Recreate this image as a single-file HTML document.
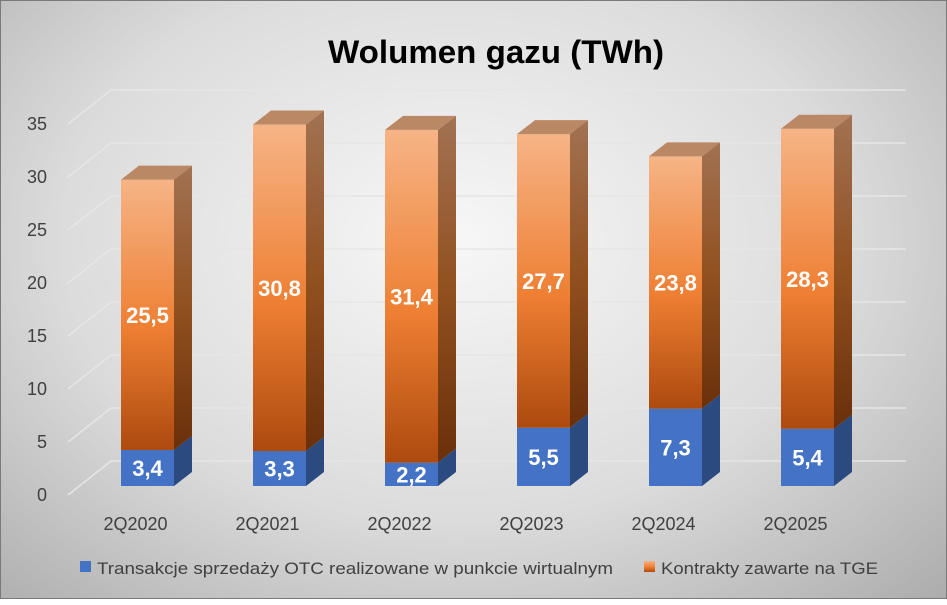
<!DOCTYPE html>
<html><head><meta charset="utf-8"><style>
body{margin:0;width:947px;height:599px;overflow:hidden;font-family:"Liberation Sans",sans-serif}
#wrap{position:absolute;left:0;top:0;width:945px;height:597px;border:1px solid #7a7a7a;background:radial-gradient(ellipse 75% 85% at 48% 40%,#f7f7f7 0%,#dcdcdc 55%,#ababab 100%)}
</style></head><body>
<div id="wrap">
<svg id="chart" width="947" height="599">
<defs>
<linearGradient id="oF" x1="0" y1="0" x2="0" y2="1"><stop offset="0" stop-color="#f6b486"/><stop offset="0.55" stop-color="#ee7f33"/><stop offset="1" stop-color="#ad4a0e"/></linearGradient>
<linearGradient id="oS" x1="0" y1="0" x2="0" y2="1"><stop offset="0" stop-color="#a27253"/><stop offset="0.5" stop-color="#91501f"/><stop offset="1" stop-color="#6a300a"/></linearGradient>
</defs>
<text x="495" y="62" text-anchor="middle" font-size="32" font-weight="bold" fill="#000" textLength="336" lengthAdjust="spacingAndGlyphs">Wolumen gazu (TWh)</text>
<g id="grid"></g><g id="bars"></g><g id="labels"></g>
<g>
<rect x="79" y="560" width="11" height="11" fill="#4472c4"/>
<text x="96" y="573" font-size="17" fill="#404040" textLength="516" lengthAdjust="spacingAndGlyphs">Transakcje sprzedaży OTC realizowane w punkcie wirtualnym</text>
<rect x="643" y="560" width="11" height="11" fill="url(#oF)"/>
<text x="660" y="573" font-size="17" fill="#404040" textLength="217" lengthAdjust="spacingAndGlyphs">Kontrakty zawarte na TGE</text>
</g>
</svg>
</div>
<script>
const categories=["2Q2020","2Q2021","2Q2022","2Q2023","2Q2024","2Q2025"];
const otcValues=[3.4,3.3,2.2,5.5,7.3,5.4];
const tgeValues=[25.5,30.8,31.4,27.7,23.8,28.3];
const yTicks=[0,5,10,15,20,25,30,35];
const NS="http://www.w3.org/2000/svg";
const base=485, k=10.6, x0=120, step=132, w=53, dx=18, dy=-14;
const y=v=>base-v*k;
const xb=i=>x0+i*step;
function mk(t,a,p){const e=document.createElementNS(NS,t);for(const q in a)e.setAttribute(q,a[q]);p.appendChild(e);return e;}
const grid=document.getElementById('grid'),bars=document.getElementById('bars'),labels=document.getElementById('labels');
yTicks.forEach(t=>{
 const fy=y(t)+9, by=fy-34;
 const g=mk('g',{},grid);
 
 
 mk('line',{x1:67,y1:fy,x2:110,y2:by,stroke:'#e6e6e6','stroke-width':1.5},g);
 mk('line',{x1:110,y1:by,x2:905,y2:by,stroke:'#e6e6e6','stroke-width':1.5},g);
 const tx=mk('text',{x:46,y:fy+6,'text-anchor':'end','font-size':18,fill:'#404040'},labels);
 tx.textContent=t;
 
 
});
function seg(i,v0,v1,front,side,top,name){
 const g=mk('g',{},bars);
 
 
 const x=xb(i),yt=y(v1),yb=y(v0);
 mk('polygon',{points:`${x+w},${yb} ${x+w+dx},${yb+dy} ${x+w+dx},${yt+dy} ${x+w},${yt}`,fill:side},g);
 mk('rect',{x:x,y:yt,width:w,height:yb-yt,fill:front},g);
 if(top)mk('polygon',{points:`${x},${yt} ${x+dx},${yt+dy} ${x+w+dx},${yt+dy} ${x+w},${yt}`,fill:top},g);
}
categories.forEach((c,i)=>{
 const a=otcValues[i],b=tgeValues[i];
 seg(i,0,a,'#4472c4','#2a4a80',null,'bar-otc-'+c);
 seg(i,a,a+b,'url(#oF)','url(#oS)','#ba8864','bar-tge-'+c);
 const cx=xb(i)+w/2;
 const l1=mk('text',{x:cx,y:(y(0)+y(a))/2+8,'text-anchor':'middle','font-size':22,'font-weight':'bold',fill:'#fff'},labels);
 l1.textContent=String(a).replace('.',',');
 
 
 const l2=mk('text',{x:cx,y:(y(a)+y(a+b))/2+8,'text-anchor':'middle','font-size':22,'font-weight':'bold',fill:'#fff'},labels);
 l2.textContent=String(b).replace('.',',');
 
 
 const cl=mk('text',{x:cx-12,y:529,'text-anchor':'middle','font-size':18,fill:'#404040'},labels);
 cl.textContent=c;
 
 
});
</script>
</body></html>
